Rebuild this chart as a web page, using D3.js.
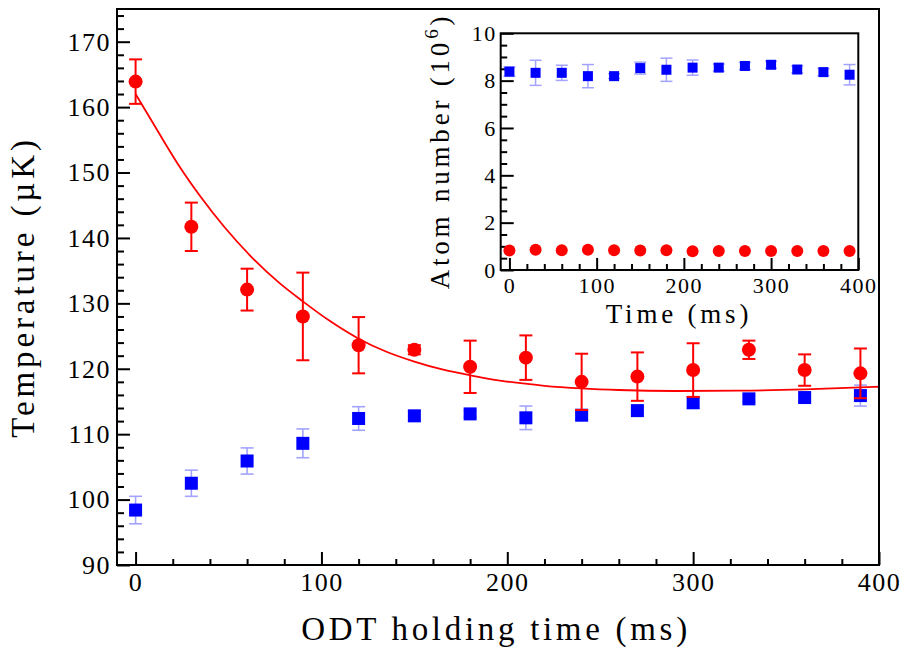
<!DOCTYPE html>
<html>
<head>
<meta charset="utf-8">
<script src="https://cdn.jsdelivr.net/npm/d3@7"></script>
<style>
  html, body { margin: 0; padding: 0; background: #fff; }
  svg { display: block; }
  text { fill: #000; }
</style>
</head>
<body>
<svg id="chart" width="913" height="655"></svg>
<script>
const FONT = '"Liberation Serif", "LiberationSerif", "Tinos", "DejaVu Serif", "Noto Serif", serif';
// ---------- data ----------
const times = [0, 30, 60, 90, 120, 150, 180, 210, 240, 270, 300, 330, 360, 390];

// main plot: temperature (µK)
const redTemp    = [163.9, 141.7, 132.1, 128.0, 123.6, 122.9, 120.3, 121.7, 118.0, 118.8, 119.8, 122.9, 119.8, 119.3];
const redTempErr = [3.4, 3.7, 3.2, 6.7, 4.3, 0.7, 4.0, 3.4, 4.3, 3.7, 4.1, 1.4, 2.4, 3.8];
const blueTemp    = [98.4, 102.5, 105.9, 108.6, 112.4, 112.8, 113.1, 112.5, 112.9, 113.6, 114.8, 115.4, 115.6, 115.9];
const blueTempErr = [2.1, 2.0, 2.0, 2.2, 1.8, 0.8, 0.5, 1.8, 0.6, 0.6, 0.8, 0.5, 0.6, 1.6];

// fitted curve
const fitT = [0, 12, 23, 35, 48, 62, 77, 90, 104, 120, 135, 150, 165, 180, 196, 220, 240, 260, 290, 325, 360, 400];
const fitV = [162.0, 156.3, 151.2, 146.3, 141.6, 137.2, 133.2, 130.3, 127.4, 124.6, 122.6, 121.1, 119.9, 119.0, 118.2, 117.4, 117.0, 116.75, 116.6, 116.65, 116.85, 117.25];

// inset: atom number (10^6)
const blueAtoms    = [8.38, 8.33, 8.33, 8.19, 8.19, 8.53, 8.46, 8.55, 8.55, 8.62, 8.67, 8.47, 8.36, 8.25];
const blueAtomsErr = [0.2, 0.53, 0.32, 0.49, 0.1, 0.25, 0.49, 0.32, 0.15, 0.15, 0.15, 0.15, 0.15, 0.43];
const redAtoms     = [0.82, 0.86, 0.83, 0.86, 0.83, 0.82, 0.83, 0.79, 0.80, 0.80, 0.80, 0.80, 0.80, 0.80];

// tick values
const mainXTicks = [0, 100, 200, 300, 400];
const mainYTicks = [90, 100, 110, 120, 130, 140, 150, 160, 170];
const insetXTicks = [0, 100, 200, 300, 400];
const insetYTicks = [0, 2, 4, 6, 8, 10];

// ---------- drawing ----------
const RED = "#ff0000", BLUE = "#0000ff", LIGHTBLUE = "#a3a3ff";
const svg = d3.select("#chart");

function range(a, b, s) { const r = []; for (let v = a; v <= b + 1e-9; v += s) r.push(+v.toFixed(6)); return r; }
function styleTicks(g, size, ls) {
  g.select(".domain").remove();
  g.selectAll("line").attr("stroke", "#000").attr("stroke-width", 2);
  g.selectAll("text").attr("font-size", size).attr("letter-spacing", ls + "px")
    .attr("font-family", FONT).style("font-family", FONT).attr("fill", "#000");
}

// ===== main plot =====
const M = { left: 117, right: 879, top: 9, bottom: 565 };
const x = d3.scaleLinear().domain([-10, 400]).range([M.left, M.right]);
const y = d3.scaleLinear().domain([90, 175]).range([M.bottom, M.top]);

const gMain = svg.append("g");

gMain.append("g").attr("transform", `translate(0,${M.bottom})`)
  .call(d3.axisBottom(x).tickValues(range(0, 400, 20).filter(v => v % 100 !== 0)).tickSize(-6).tickFormat(""))
  .call(g => styleTicks(g, 26, 0));
gMain.append("g").attr("transform", `translate(${M.left},0)`)
  .call(d3.axisLeft(y).tickValues(range(90, 174, 2).filter(v => v % 10 !== 0)).tickSize(-7).tickFormat(""))
  .call(g => styleTicks(g, 26, 0));
gMain.append("g").attr("transform", `translate(0,${M.bottom})`)
  .call(d3.axisBottom(x).tickValues(mainXTicks).tickSize(-13).tickPadding(8).tickFormat(d3.format("d")))
  .call(g => styleTicks(g, 26, 1.5));
gMain.append("g").attr("transform", `translate(${M.left},0)`)
  .call(d3.axisLeft(y).tickValues(mainYTicks).tickSize(-13).tickPadding(6).tickFormat(d3.format("d")))
  .call(g => styleTicks(g, 26, 1.5));

const blueData = times.map((t, i) => ({ t, v: blueTemp[i], e: blueTempErr[i] }));
const redData  = times.map((t, i) => ({ t, v: redTemp[i],  e: redTempErr[i] }));

function errBar(g, sx, sy, t, lo, hi, half) {
  g.append("line").attr("x1", sx(t)).attr("x2", sx(t)).attr("y1", sy(lo)).attr("y2", sy(hi));
  g.append("line").attr("x1", sx(t) - half).attr("x2", sx(t) + half).attr("y1", sy(lo)).attr("y2", sy(lo));
  g.append("line").attr("x1", sx(t) - half).attr("x2", sx(t) + half).attr("y1", sy(hi)).attr("y2", sy(hi));
}

const gBlue = gMain.append("g");
const gBlueErr = gBlue.append("g").attr("stroke", LIGHTBLUE).attr("stroke-width", 1.6);
blueData.forEach(d => errBar(gBlueErr, x, y, d.t, d.v - d.e, d.v + d.e, 6.5));

const gRed = gMain.append("g");
const gRedErr = gRed.append("g").attr("stroke", RED).attr("stroke-width", 2);
redData.forEach(d => errBar(gRedErr, x, y, d.t, d.v - d.e, d.v + d.e, 6.5));

const fitData = fitT.map((t, i) => ({ t, v: fitV[i] }));
gMain.append("path").datum(fitData)
  .attr("fill", "none").attr("stroke", RED).attr("stroke-width", 1.8)
  .attr("d", d3.line().x(d => x(d.t)).y(d => y(d.v)).curve(d3.curveMonotoneX));

gBlue.selectAll("rect.sq").data(blueData).join("rect").attr("class", "sq")
  .attr("x", d => x(d.t) - 6.5).attr("y", d => y(d.v) - 6.5)
  .attr("width", 13).attr("height", 13).attr("fill", BLUE);
gRed.selectAll("circle").data(redData).join("circle")
  .attr("cx", d => x(d.t)).attr("cy", d => y(d.v)).attr("r", 7).attr("fill", RED);

gMain.append("rect").attr("x", M.left).attr("y", M.top)
  .attr("width", M.right - M.left).attr("height", M.bottom - M.top)
  .attr("fill", "none").attr("stroke", "#000").attr("stroke-width", 2);

gMain.append("text").attr("x", 496).attr("y", 640).attr("text-anchor", "middle")
  .attr("font-family", FONT).style("font-family", FONT)
  .attr("font-size", 33).attr("letter-spacing", "3.7px").text("ODT holding time (ms)");
gMain.append("text").attr("transform", "translate(34,287) rotate(-90)").attr("text-anchor", "middle")
  .attr("font-family", FONT).style("font-family", FONT)
  .attr("font-size", 33).attr("letter-spacing", "3.9px").text("Temperature (µK)");

// ===== inset =====
const I = { left: 500.7, right: 858.3, top: 33.3, bottom: 270 };
const xi = d3.scaleLinear().domain([-10, 400]).range([I.left, I.right]);
const yi = d3.scaleLinear().domain([0, 10]).range([I.bottom, I.top]);
const gIn = svg.append("g");

gIn.append("rect").attr("x", I.left).attr("y", I.top)
  .attr("width", I.right - I.left).attr("height", I.bottom - I.top).attr("fill", "#fff");

gIn.append("g").attr("transform", `translate(0,${I.bottom})`)
  .call(d3.axisBottom(xi).tickValues(range(0, 400, 20).filter(v => v % 100 !== 0)).tickSize(-6).tickFormat(""))
  .call(g => styleTicks(g, 22, 0));
gIn.append("g").attr("transform", `translate(${I.left},0)`)
  .call(d3.axisLeft(yi).tickValues(range(0, 10, 0.5).filter(v => v % 2 !== 0)).tickSize(-6.5).tickFormat(""))
  .call(g => styleTicks(g, 22, 0));
gIn.append("g").attr("transform", `translate(0,${I.bottom})`)
  .call(d3.axisBottom(xi).tickValues(insetXTicks).tickSize(-12).tickPadding(7).tickFormat(d3.format("d")))
  .call(g => styleTicks(g, 22, 1.5));
gIn.append("g").attr("transform", `translate(${I.left},0)`)
  .call(d3.axisLeft(yi).tickValues(insetYTicks).tickSize(-13).tickPadding(4).tickFormat(d3.format("d")))
  .call(g => styleTicks(g, 22, 1.5));

const blueIn = times.map((t, i) => ({ t, v: blueAtoms[i], e: blueAtomsErr[i] }));
const redIn  = times.map((t, i) => ({ t, v: redAtoms[i] }));
const gBI = gIn.append("g");
const gBIErr = gBI.append("g").attr("stroke", LIGHTBLUE).attr("stroke-width", 1.5);
blueIn.forEach(d => errBar(gBIErr, xi, yi, d.t, d.v - d.e, d.v + d.e, 6));
gBI.selectAll("rect.sq").data(blueIn).join("rect").attr("class", "sq")
  .attr("x", d => xi(d.t) - 5).attr("y", d => yi(d.v) - 5)
  .attr("width", 10).attr("height", 10).attr("fill", BLUE);
gIn.append("g").selectAll("circle").data(redIn).join("circle")
  .attr("cx", d => xi(d.t)).attr("cy", d => yi(d.v)).attr("r", 6).attr("fill", RED);

gIn.append("rect").attr("x", I.left).attr("y", I.top)
  .attr("width", I.right - I.left).attr("height", I.bottom - I.top)
  .attr("fill", "none").attr("stroke", "#000").attr("stroke-width", 2);

gIn.append("text").attr("x", 679).attr("y", 323).attr("text-anchor", "middle")
  .attr("font-family", FONT).style("font-family", FONT)
  .attr("font-size", 27).attr("letter-spacing", "3.8px").text("Time (ms)");
const yt = gIn.append("text").attr("transform", "translate(449,151) rotate(-90)").attr("text-anchor", "middle")
  .attr("font-family", FONT).style("font-family", FONT)
  .attr("font-size", 27).attr("letter-spacing", "3.8px");
yt.append("tspan").text("Atom number (10");
yt.append("tspan").attr("font-size", 19).attr("dy", -11).text("6");
yt.append("tspan").attr("dy", 11).text(")");
</script>
</body>
</html>
